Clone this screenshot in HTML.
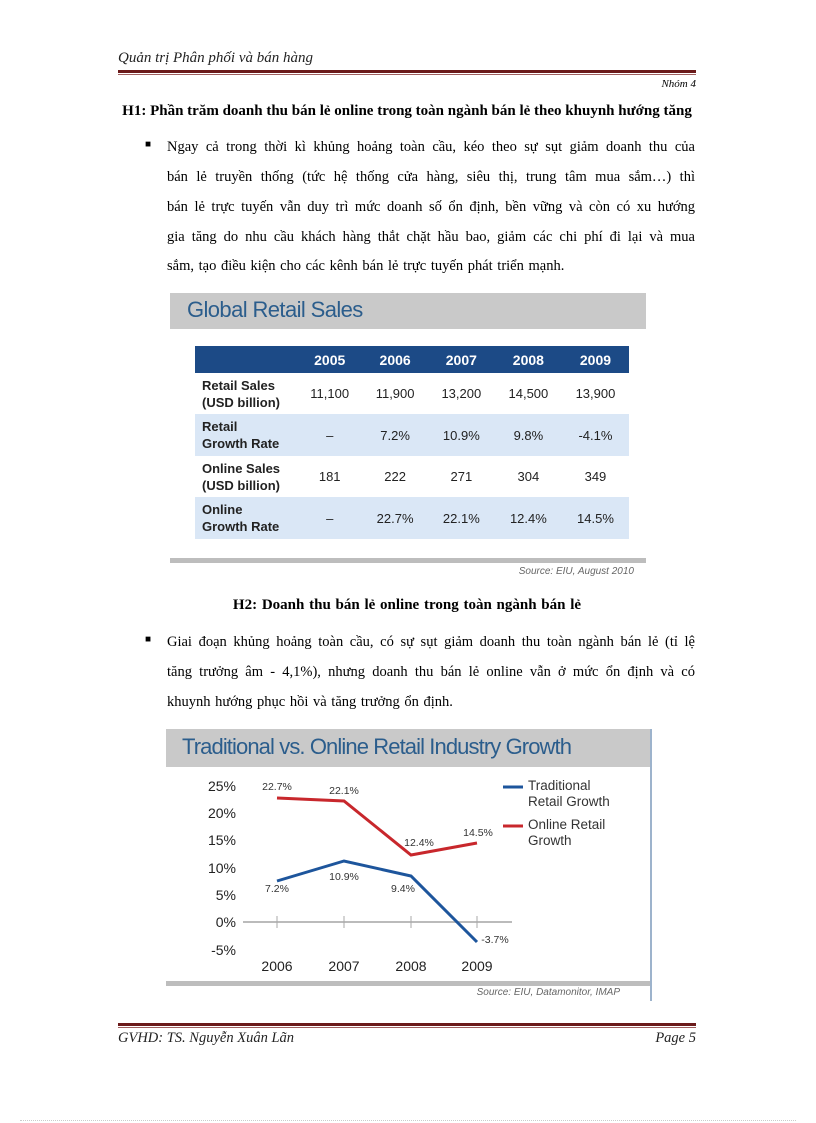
<!DOCTYPE html>
<html><head><meta charset="utf-8"><style>
body{margin:0;width:816px;height:1123px;background:#fff;position:relative;overflow:hidden;font-family:"Liberation Serif",serif;color:#000}
.a{position:absolute;white-space:nowrap}
.l{position:absolute;left:167px;width:528px;font-size:14.5px;text-align:justify;text-align-last:justify;white-space:nowrap}
.s{font-family:"Liberation Sans",sans-serif}
td{font-family:"Liberation Sans",sans-serif;font-size:13px;color:#222;text-align:center;padding:0}
</style></head><body>
<div class="a" style="left:118px;top:50px;font-size:15px;font-style:italic;color:#222">Quản trị Phân phối và bán hàng</div>
<div class="a" style="left:118px;top:70px;width:578px;height:3px;background:#6b1a1a"></div>
<div class="a" style="left:118px;top:74px;width:578px;height:1px;background:#a06060"></div>
<div class="a" style="left:596px;width:100px;text-align:right;top:78px;font-size:11px;font-style:italic">Nhóm 4</div>
<div class="a" style="left:110px;top:103px;width:594px;text-align:center;font-size:15px;font-weight:bold">H1: Phần trăm doanh thu bán lẻ online trong toàn ngành bán lẻ theo khuynh hướng tăng</div>
<div class="a" style="left:145px;top:139px;font-size:10px">■</div>
<div class="l" style="top:139px">Ngay cả trong thời kì khủng hoảng toàn cầu, kéo theo sự sụt giảm doanh thu của</div>
<div class="l" style="top:169px">bán lẻ truyền thống (tức hệ thống cửa hàng, siêu thị, trung tâm mua sắm…) thì</div>
<div class="l" style="top:199px">bán lẻ trực tuyến vẫn duy trì mức doanh số ổn định, bền vững và còn có xu hướng</div>
<div class="l" style="top:229px">gia tăng do nhu cầu khách hàng thắt chặt hầu bao, giảm các chi phí đi lại và mua</div>
<div class="a" style="left:167px;top:258px;font-size:14.5px;word-spacing:1px">sắm, tạo điều kiện cho các kênh bán lẻ trực tuyến phát triển mạnh.</div>

<div class="a" style="left:170px;top:293px;width:476px;height:36px;background:#c9c9c9"></div>
<div class="a s" style="left:187px;top:297px;font-size:22px;color:#2b5d8c;letter-spacing:-0.6px">Global Retail Sales</div>
<table class="a" style="left:195px;top:346px;width:434px;border-collapse:collapse">
<tr style="background:#1c4a86;height:27px"><td style="width:102px"></td><td style="color:#fff;font-weight:bold;font-size:14px">2005</td><td style="color:#fff;font-weight:bold;font-size:14px">2006</td><td style="color:#fff;font-weight:bold;font-size:14px">2007</td><td style="color:#fff;font-weight:bold;font-size:14px">2008</td><td style="color:#fff;font-weight:bold;font-size:14px">2009</td></tr>
<tr style="height:41px"><td style="text-align:left;padding-left:7px;font-weight:bold;line-height:17px">Retail Sales<br>(USD billion)</td><td>11,100</td><td>11,900</td><td>13,200</td><td>14,500</td><td>13,900</td></tr>
<tr style="height:42px;background:#dae7f6"><td style="text-align:left;padding-left:7px;font-weight:bold;line-height:17px">Retail<br>Growth Rate</td><td>–</td><td>7.2%</td><td>10.9%</td><td>9.8%</td><td>-4.1%</td></tr>
<tr style="height:41px"><td style="text-align:left;padding-left:7px;font-weight:bold;line-height:17px">Online Sales<br>(USD billion)</td><td>181</td><td>222</td><td>271</td><td>304</td><td>349</td></tr>
<tr style="height:42px;background:#dae7f6"><td style="text-align:left;padding-left:7px;font-weight:bold;line-height:17px">Online<br>Growth Rate</td><td>–</td><td>22.7%</td><td>22.1%</td><td>12.4%</td><td>14.5%</td></tr>
</table>
<div class="a" style="left:170px;top:558px;width:476px;height:5px;background:#bdbdbd"></div>
<div class="a s" style="left:500px;top:566px;width:134px;text-align:right;font-size:10px;font-style:italic;color:#666">Source: EIU, August 2010</div>

<div class="a" style="left:110px;top:597px;width:594px;text-align:center;font-size:15px;font-weight:bold;word-spacing:1px">H2: Doanh thu bán lẻ online trong toàn ngành bán lẻ</div>
<div class="a" style="left:145px;top:634px;font-size:10px">■</div>
<div class="l" style="top:634px">Giai đoạn khủng hoảng toàn cầu, có sự sụt giảm doanh thu toàn ngành bán lẻ (tỉ lệ</div>
<div class="l" style="top:664px">tăng trưởng âm - 4,1%), nhưng doanh thu bán lẻ online vẫn ở mức ổn định và có</div>
<div class="a" style="left:167px;top:694px;font-size:14.5px;word-spacing:1px">khuynh hướng phục hồi và tăng trưởng ổn định.</div>

<div class="a" style="left:166px;top:729px;width:484px;height:38px;background:#c9c9c9"></div>
<div class="a" style="left:650px;top:729px;width:2px;height:272px;background:#9db3cc"></div>
<div class="a s" style="left:182px;top:734px;font-size:22px;color:#2b5d8c;letter-spacing:-0.9px">Traditional vs. Online Retail Industry Growth</div>
<svg class="a" style="left:0;top:0" width="816" height="1123">
<g font-family="Liberation Sans,sans-serif" font-size="14" fill="#222" text-anchor="end">
<text x="236" y="791">25%</text><text x="236" y="818">20%</text><text x="236" y="845">15%</text><text x="236" y="873">10%</text><text x="236" y="900">5%</text><text x="236" y="927">0%</text><text x="236" y="955">-5%</text>
</g>
<line x1="243" y1="922" x2="512" y2="922" stroke="#bbb" stroke-width="2"/>
<g stroke="#aaa"><line x1="277" y1="916" x2="277" y2="928"/><line x1="344" y1="916" x2="344" y2="928"/><line x1="411" y1="916" x2="411" y2="928"/><line x1="477" y1="916" x2="477" y2="928"/></g>
<polyline points="277,798 344,801 411,855 477,843" fill="none" stroke="#c8272c" stroke-width="3"/>
<polyline points="277,881 344,861 411,876 477,942" fill="none" stroke="#1d559c" stroke-width="3"/>
<g font-family="Liberation Sans,sans-serif" font-size="10.5" fill="#333" text-anchor="middle">
<text x="277" y="790">22.7%</text><text x="344" y="794">22.1%</text><text x="419" y="846">12.4%</text><text x="478" y="836">14.5%</text>
<text x="277" y="892">7.2%</text><text x="344" y="880">10.9%</text><text x="403" y="892">9.4%</text><text x="495" y="943">-3.7%</text>
</g>
<g font-family="Liberation Sans,sans-serif" font-size="14" fill="#222" text-anchor="middle">
<text x="277" y="971">2006</text><text x="344" y="971">2007</text><text x="411" y="971">2008</text><text x="477" y="971">2009</text>
</g>
<line x1="503" y1="787" x2="523" y2="787" stroke="#1d559c" stroke-width="3"/>
<line x1="503" y1="826" x2="523" y2="826" stroke="#c8272c" stroke-width="3"/>
<g font-family="Liberation Sans,sans-serif" font-size="13.5" fill="#333">
<text x="528" y="790">Traditional</text><text x="528" y="806">Retail Growth</text>
<text x="528" y="829">Online Retail</text><text x="528" y="845">Growth</text>
</g>
</svg>
<div class="a" style="left:166px;top:981px;width:484px;height:5px;background:#bdbdbd"></div>
<div class="a s" style="left:440px;top:987px;width:180px;text-align:right;font-size:10px;font-style:italic;color:#666">Source: EIU, Datamonitor, IMAP</div>

<div class="a" style="left:118px;top:1023px;width:578px;height:3px;background:#6b1a1a"></div>
<div class="a" style="left:118px;top:1027px;width:578px;height:1px;background:#a06060"></div>
<div class="a" style="left:118px;top:1030px;font-size:14.5px;font-style:italic;color:#222">GVHD: TS. Nguyễn Xuân Lãn</div>
<div class="a" style="left:596px;width:100px;text-align:right;top:1030px;font-size:14.5px;font-style:italic;color:#222">Page 5</div>
<div class="a" style="left:20px;top:1120px;width:776px;border-top:1px dotted #ccc"></div>
</body></html>
